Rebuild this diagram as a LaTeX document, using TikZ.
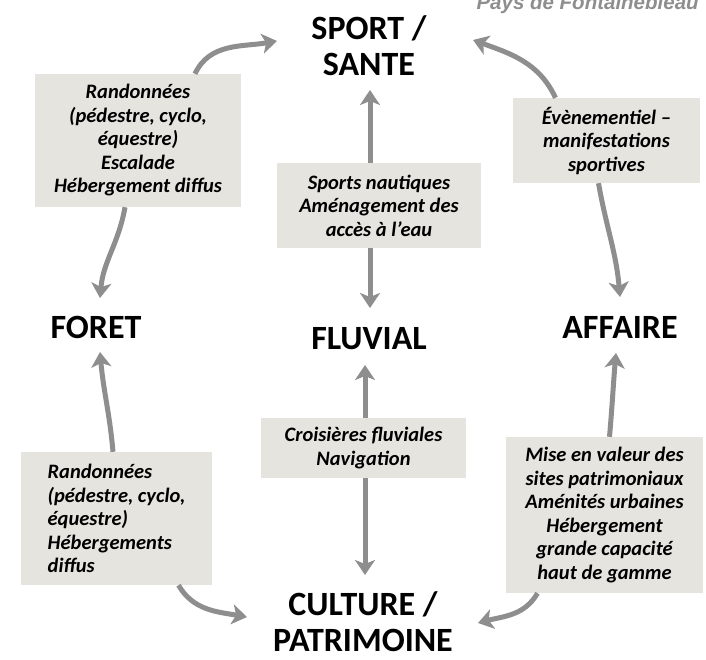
\documentclass[tikz,border=0pt]{standalone}
\usepackage{fontspec}
\setmainfont{Carlito}
\newfontfamily\sourcefont{Liberation Sans}
\usetikzlibrary{arrows.meta}
\definecolor{boxfill}{HTML}{E6E4DE}
\definecolor{flowgray}{HTML}{8E8E8E}
\tikzset{
  theme/.style={font=\fontsize{34}{36}\selectfont\bfseries, align=center, inner sep=0pt},
  offer/.style={fill=boxfill, font=\fontsize{20.5}{23.5}\selectfont\bfseries\itshape, align=center, inner sep=0pt},
  flow/.style={draw=flowgray, line width=5pt, -{Stealth[length=15pt,width=20pt,inset=4pt]}}
}
\begin{document}
\begin{tikzpicture}[x=1pt,y=-1pt]
\useasboundingbox (0,0) rectangle (706,659);
\node[anchor=base west, font=\sourcefont\fontsize{20.5}{22}\selectfont\bfseries\itshape, text=flowgray] (source) at (473,9) {Pays de Fontainebleau};
\node[theme] (sport) at (369,46) {SPORT /\\SANTE};
\node[theme] (foret) at (96,327.5) {FORET};
\node[theme] (fluvial) at (369,339) {FLUVIAL};
\node[theme] (affaire) at (620,327.5) {AFFAIRE};
\node[theme] (culture) at (363,622) {CULTURE /\\PATRIMOINE};
\node[offer, minimum width=206pt, minimum height=133pt] (b1) at (138,140.5) {Randonnées\\(pédestre, cyclo,\\équestre)\\Escalade\\Hébergement diffus};
\node[offer, minimum width=204pt, minimum height=85pt] (b2) at (379,205.5) {Sports nautiques\\Aménagement des\\accès à l’eau};
\node[offer, minimum width=187pt, minimum height=85pt] (b3) at (606.5,140.5) {Évènementiel –\\manifestations\\sportives};
\node[offer, minimum width=205pt, minimum height=60pt] (b4) at (363.5,448) {Croisières fluviales\\Navigation};
\node[offer, align=left, minimum width=191pt, minimum height=133pt] (b5) at (116.5,518.5) {Randonnées\\(pédestre, cyclo,\\équestre)\\Hébergements\\diffus};
\node[offer, minimum width=197pt, minimum height=156pt] (b6) at (604.5,515) {Mise en valeur des\\sites patrimoniaux\\Aménités urbaines\\Hébergement\\grande capacité\\haut de gamme};
\draw[flow] ([xshift=57pt]b1.north) to[out=65,in=190] ([xshift=-92pt,yshift=5pt]sport.center);
\draw[flow] ([xshift=-13pt]b1.south) to[out=-100,in=85] ([xshift=4pt,yshift=29.5pt]foret.center);
\draw[flow] ([xshift=-9pt]b2.north) -- ([xshift=1pt,yshift=-44pt]sport.center);
\draw[flow] ([xshift=-9pt]b2.south) -- ([xshift=1pt,yshift=31pt]fluvial.center);
\draw[flow] ([xshift=-51pt]b3.north) to[out=115,in=-20] ([xshift=104pt,yshift=6pt]sport.center);
\draw[flow] ([xshift=-8pt]b3.south) to[out=-80,in=95] ([yshift=30.5pt]affaire.center);
\draw[flow] ([xshift=-3.5pt]b5.north) to[out=95,in=-85] ([xshift=4pt,yshift=-24.5pt]foret.center);
\draw[flow] ([xshift=62pt]b5.south) to[out=-60,in=170] ([xshift=-116pt,yshift=5pt]culture.center);
\draw[flow] ([xshift=1.5pt]b4.north) -- ([xshift=-4pt,yshift=-26pt]fluvial.center);
\draw[flow] ([xshift=1.5pt]b4.south) -- ([xshift=2pt,yshift=47pt]culture.center);
\draw[flow] ([xshift=5pt]b6.north) to[out=85,in=-95] ([xshift=-4pt,yshift=-25.5pt]affaire.center);
\draw[flow] ([xshift=-67pt]b6.south) to[out=-120,in=15] ([xshift=115pt,yshift=-1pt]culture.center);
\end{tikzpicture}
\end{document}
